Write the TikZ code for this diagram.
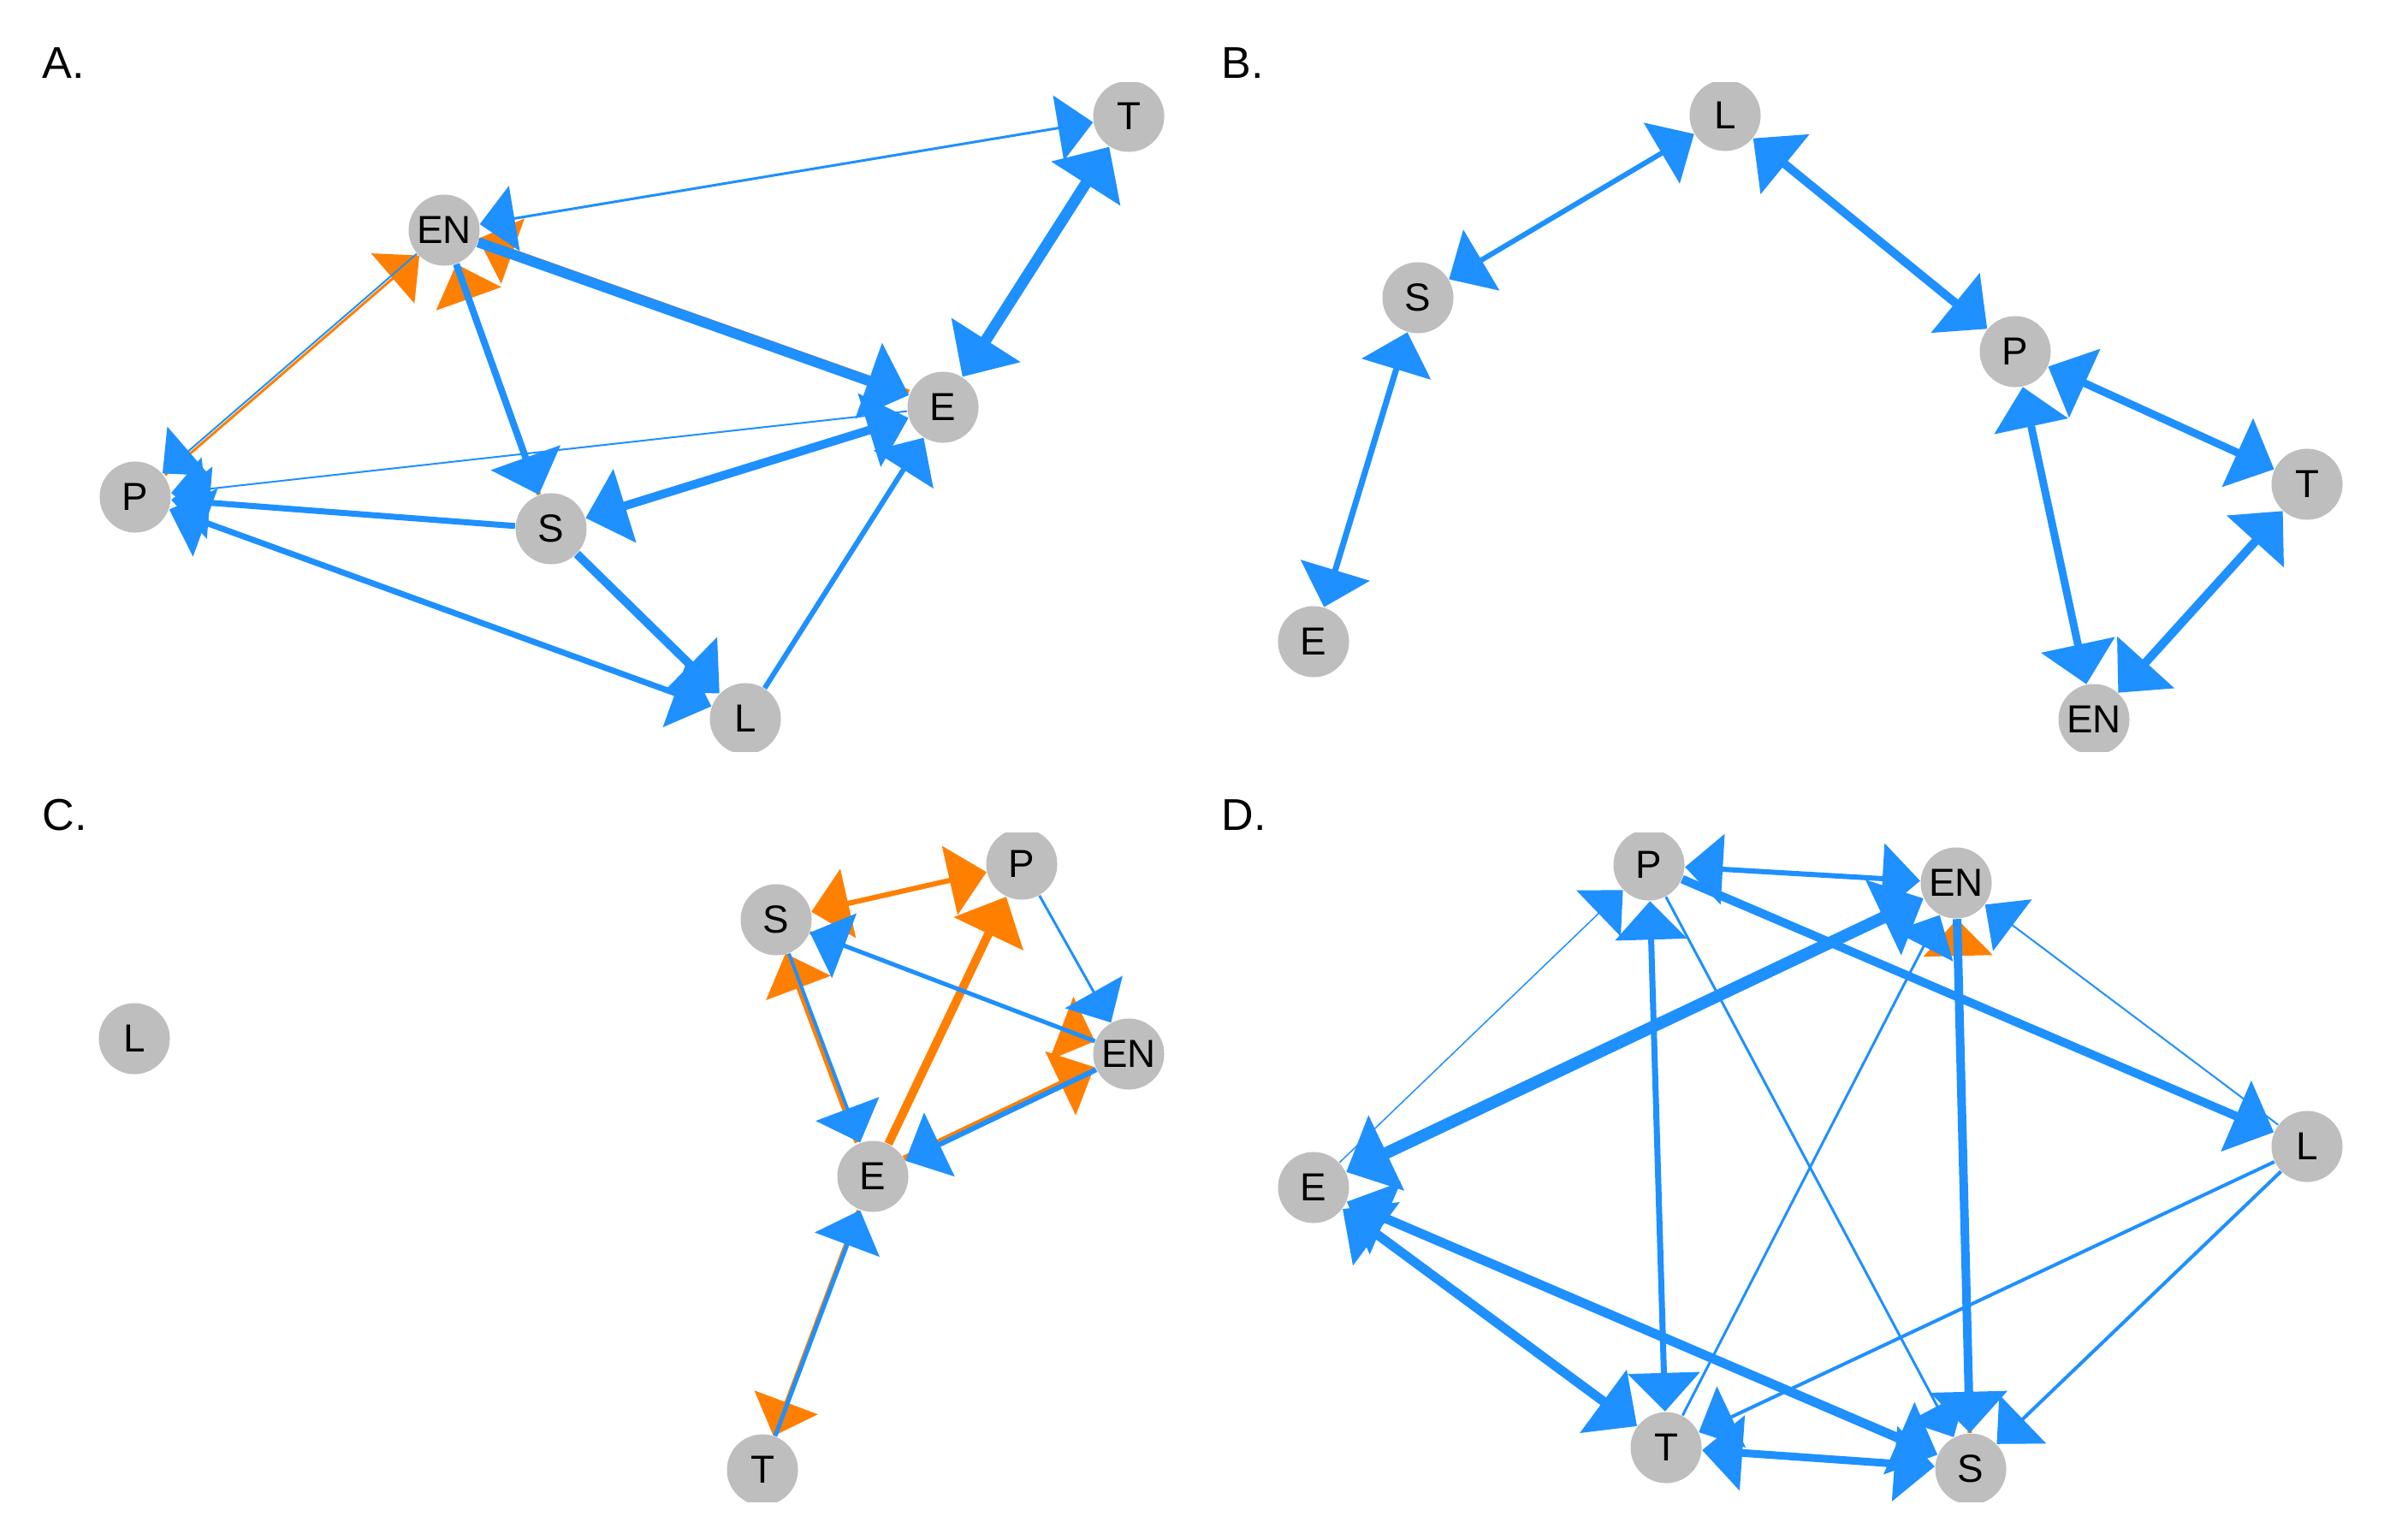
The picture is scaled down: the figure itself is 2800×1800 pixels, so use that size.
\documentclass[tikz,border=0pt]{standalone}
\usepackage{fontspec}
\setmainfont{Liberation Sans}
\usetikzlibrary{arrows.meta}
\definecolor{eblue}{HTML}{1E90FF}
\definecolor{eorange}{HTML}{FF7F00}
\definecolor{vgray}{HTML}{BEBEBE}
\pgfdeclarelayer{paper}
\pgfdeclarelayer{edges}
\pgfsetlayers{paper,edges,main}
\tikzset{
  vtx/.style={circle, fill=vgray, inner sep=0pt, minimum size=0.83cm,
              font=\fontsize{13}{13}\selectfont},
  lbl/.style={anchor=base west, inner sep=0pt, font=\fontsize{14.8}{15}\selectfont},
  wd/.style={line width=#1*0.1mm},
  be/.style={draw=eblue, wd=#1},
  oe/.style={draw=eorange, wd=#1},
  >={Triangle[length=3.8mm 1.0, width=7.2mm 1.6]},
}
\begin{document}
\begin{tikzpicture}[x=0.01cm, y=-0.01cm]
\useasboundingbox (0,0) rectangle (2800,1800);
\begin{pgfonlayer}{paper}
  \fill[white] (0,0) rectangle (2800,1800);
\end{pgfonlayer}

% panel labels
\node[lbl] (labA) at (49,92)    {A.};
\node[lbl] (labB) at (1427,92)  {B.};
\node[lbl] (labC) at (49,970)   {C.};
\node[lbl] (labD) at (1427,970) {D.};

% ---------------- panel A ----------------
\begin{scope}
  \clip (0,97) rectangle (1400,878);
  \node[vtx] (aT)  at (1319,136) {T};
  \node[vtx] (aEN) at (519,269)  {EN};
  \node[vtx] (aE)  at (1102,476) {E};
  \node[vtx] (aP)  at (158,581)  {P};
  \node[vtx] (aS)  at (644,618)  {S};
  \node[vtx] (aL)  at (871,840)  {L};
\end{scope}
\begin{pgfonlayer}{edges}
\begin{scope}
  \clip (0,97) rectangle (1400,878);
  \draw[oe=5, ->, transform canvas={shift={(0,-4)}}] (aE) -- (aEN);
  \draw[oe=5, ->] (aS) -- (aEN);
  \draw[oe=3, ->, transform canvas={shift={(3,2)}}] (aP) -- (aEN);
  \draw[be=3, <->] (aT) -- (aEN);
  \draw[be=13, <->] (aT) -- (aE);
  \draw[be=12, ->] (aEN) -- (aE);
  \draw[be=8, ->] (aEN) -- (aS);
  \draw[be=10, <->] (aE) -- (aS);
  \draw[be=7, ->] (aS) -- (aP);
  \draw[be=7, <->] (aP) -- (aL);
  \draw[be=10, ->] (aS) -- (aL);
  \draw[be=6, ->] (aL) -- (aE);
  \draw[be=2, ->] (aE) -- (aP);
  \draw[be=2, ->] (aEN) -- (aP);
\end{scope}
\end{pgfonlayer}

% ---------------- panel B ----------------
\begin{scope}
  \clip (1400,97) rectangle (2800,878);
  \node[vtx] (bL)  at (2016,135) {L};
  \node[vtx] (bS)  at (1657,348) {S};
  \node[vtx] (bP)  at (2355,411) {P};
  \node[vtx] (bT)  at (2696,566) {T};
  \node[vtx] (bE)  at (1535,750) {E};
  \node[vtx] (bEN) at (2447,841) {EN};
\end{scope}
\begin{pgfonlayer}{edges}
\begin{scope}
  \clip (1400,97) rectangle (2800,878);
  \draw[be=6, <->] (bL) -- (bS);
  \draw[be=10, <->] (bL) -- (bP);
  \draw[be=7, <->] (bS) -- (bE);
  \draw[be=9, <->] (bP) -- (bT);
  \draw[be=9, <->] (bP) -- (bEN);
  \draw[be=10, <->] (bT) -- (bEN);
\end{scope}
\end{pgfonlayer}

% ---------------- panel C ----------------
\begin{scope}
  \clip (0,973) rectangle (1400,1755);
  \node[vtx] (cS)  at (907,1075)  {S};
  \node[vtx] (cP)  at (1194,1010) {P};
  \node[vtx] (cEN) at (1319,1232) {EN};
  \node[vtx] (cE)  at (1020,1375) {E};
  \node[vtx] (cT)  at (891,1718)  {T};
  \node[vtx] (cL)  at (157,1214)  {L};
\end{scope}
\begin{pgfonlayer}{edges}
\begin{scope}
  \clip (0,973) rectangle (1400,1755);
  \draw[oe=6, <->] (cS) -- (cP);
  \draw[oe=10, ->] (cE) -- (cP);
  \draw[oe=5, ->, transform canvas={shift={(-4,0)}}] (cE) -- (cS);
  \draw[oe=6, ->, transform canvas={shift={(-2,-3)}}] (cE) -- (cEN);
  \draw[oe=4, ->] (cS) -- (cEN);
  \draw[oe=4, ->, transform canvas={shift={(-2,0)}}] (cE) -- (cT);
  \draw[be=3, ->] (cP) -- (cEN);
  \draw[be=5, ->] (cEN) -- (cS);
  \draw[be=4, ->] (cS) -- (cE);
  \draw[be=6, ->] (cEN) -- (cE);
  \draw[be=5, ->] (cT) -- (cE);
\end{scope}
\end{pgfonlayer}

% ---------------- panel D ----------------
\begin{scope}
  \clip (1400,973) rectangle (2800,1755);
  \node[vtx] (dP)  at (1927,1011) {P};
  \node[vtx] (dEN) at (2286,1032) {EN};
  \node[vtx] (dL)  at (2696,1340) {L};
  \node[vtx] (dE)  at (1535,1388) {E};
  \node[vtx] (dT)  at (1947,1692) {T};
  \node[vtx] (dS)  at (2303,1717) {S};
\end{scope}
\begin{pgfonlayer}{edges}
\begin{scope}
  \clip (1400,973) rectangle (2800,1755);
  \draw[oe=5, ->] (dS) -- (dEN);
  \draw[be=6, <->] (dP) -- (dEN);
  \draw[be=1.5, ->] (dE) -- (dP);
  \draw[be=7, <->] (dP) -- (dT);
  \draw[be=10, ->] (dP) -- (dL);
  \draw[be=3, ->] (dP) -- (dS);
  \draw[be=14, <->] (dEN) -- (dE);
  \draw[be=3, ->] (dT) -- (dEN);
  \draw[be=10, ->] (dEN) -- (dS);
  \draw[be=2, ->] (dL) -- (dEN);
  \draw[be=4, ->] (dL) -- (dT);
  \draw[be=4, ->] (dL) -- (dS);
  \draw[be=11, <->] (dE) -- (dT);
  \draw[be=11, <->] (dE) -- (dS);
  \draw[be=9, <->] (dT) -- (dS);
\end{scope}
\end{pgfonlayer}
\end{tikzpicture}
\end{document}
